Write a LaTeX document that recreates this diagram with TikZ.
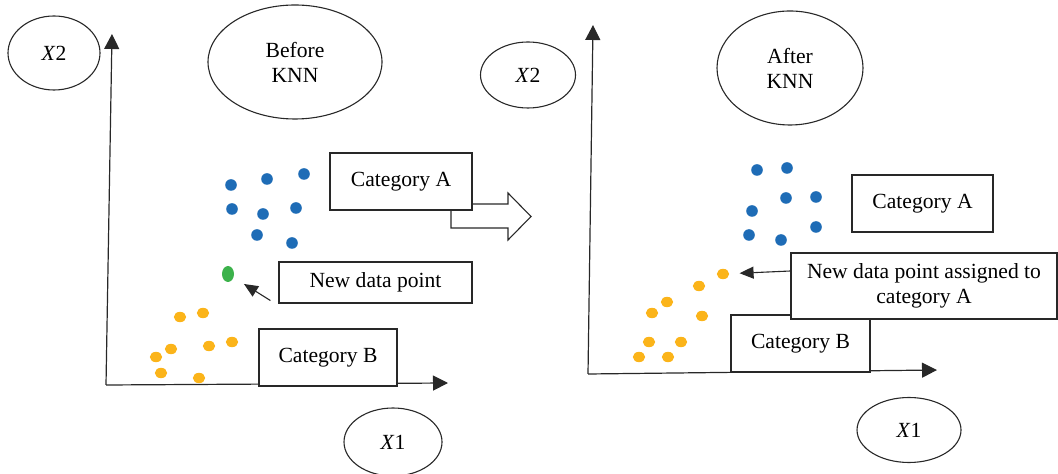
\documentclass[tikz,border=0pt]{standalone}
\usepackage{fontspec}
\setmainfont{Liberation Serif}
\usetikzlibrary{shapes.geometric,arrows.meta}

\definecolor{ptblue}{RGB}{30,108,182}
\definecolor{ptorange}{RGB}{251,180,26}
\definecolor{ptgreen}{RGB}{60,178,75}
\definecolor{ink}{RGB}{40,40,40}

\tikzset{
  oval/.style = {draw=ink, ellipse, inner sep=0pt, line width=0.55pt},
  catbox/.style = {draw=ink, fill=white, rectangle, inner sep=0pt, line width=0.55pt, align=center},
  axis/.style = {draw=ink, line width=0.6pt, -{Triangle[length=7.5pt,width=7.5pt]}},
  pointer/.style = {draw=ink, line width=0.55pt, -{Triangle[length=7pt,width=6pt]}},
  bdot/.style = {fill=ptblue},
  odot/.style = {fill=ptorange}
}

\begin{document}
\begin{tikzpicture}[x=0.5pt, y=-0.5pt, font=\fontsize{10.8}{12.5}\selectfont]
\useasboundingbox (0,0) rectangle (1058,474);

% ---- before KNN
\node[oval, minimum width=46pt, minimum height=37pt] (x2a) at (54,53) {\textit{X}2};
\node[oval, minimum width=87pt, minimum height=57pt, align=center] (before) at (295,62) {Before\\KNN};
\node[oval, minimum width=49pt, minimum height=34pt] (x1a) at (393,442) {\textit{X}1};

\coordinate (o1) at (106,385);
\coordinate (ytip1) at (112,34);
\coordinate (xtip1) at (448,383);
\draw[axis] (o1) -- (ytip1);
\draw[axis] (o1) -- (xtip1);

\foreach \x/\y in {231/185, 267/179, 304/174, 232/209, 263/214, 296/208, 257/235, 292/243}
  \fill[bdot] (\x,\y) circle (2.9pt);
\foreach \x/\y in {180/317, 203/313, 171/349, 156/357, 209/346, 232/342, 161/373, 199/378}
  \fill[odot] (\x,\y) ellipse (3.1pt and 2.6pt);
\node[fill=ptgreen, ellipse, inner sep=0pt, minimum width=6pt, minimum height=8pt] (newpt) at (228,274) {};

% big hollow arrow (sits behind Category A)
\draw[ink, line width=0.55pt, fill=white] (451,210) -- (451,228) -- (508,228) -- (508,240) -- (531,216.5) -- (508,193) -- (508,204) -- (472,204);

\node[catbox, minimum width=71pt, minimum height=28.5pt] (catA1) at (401,181.5) {Category A};
\node[catbox, minimum width=96.5pt, minimum height=20.5pt] (new1) at (375.5,282.5) {New data point};
\node[catbox, minimum width=69pt, minimum height=28.5pt] (catB1) at (328,357.5) {Category B};

\draw[pointer, shorten >=6pt] ([shift={(-4pt,1.5pt)}]new1.south west) -- (newpt);

% ---- after KNN
\node[oval, minimum width=47.5pt, minimum height=33pt] (x2b) at (528,75) {\textit{X}2};
\node[oval, minimum width=73pt, minimum height=57pt, align=center] (after) at (790,68) {After\\KNN};
\node[oval, minimum width=52pt, minimum height=32.5pt] (x1b) at (909,430) {\textit{X}1};

\coordinate (o2) at (588,374);
\coordinate (ytip2) at (593,25);
\coordinate (xtip2) at (937,370);
\draw[axis] (o2) -- (ytip2);
\draw[axis] (o2) -- (xtip2);

\foreach \x/\y in {757/170, 787/168, 786/198, 816/197, 752/211, 749/235, 781/240, 816/227}
  \fill[bdot] (\x,\y) circle (2.9pt);
\foreach \x/\y in {699/286, 667/302, 652/313, 702/316, 649/342, 681/342, 639/357, 668/357}
  \fill[odot] (\x,\y) ellipse (3.1pt and 2.6pt);
\node[fill=ptorange, ellipse, inner sep=0pt, minimum width=6.2pt, minimum height=5.2pt] (assigned) at (723,274) {};

\node[catbox, minimum width=70.5pt, minimum height=28.5pt] (catA2) at (922.5,203.5) {Category A};
\node[catbox, minimum width=69.5pt, minimum height=28.5pt] (catB2) at (800.5,343.5) {Category B};
\node[catbox, minimum width=133pt, minimum height=33pt] (new2) at (924,286) {New data point assigned to\\category A};

\draw[pointer, shorten >=5pt] ([yshift=7.5pt]new2.west) -- (assigned);
\end{tikzpicture}
\end{document}
